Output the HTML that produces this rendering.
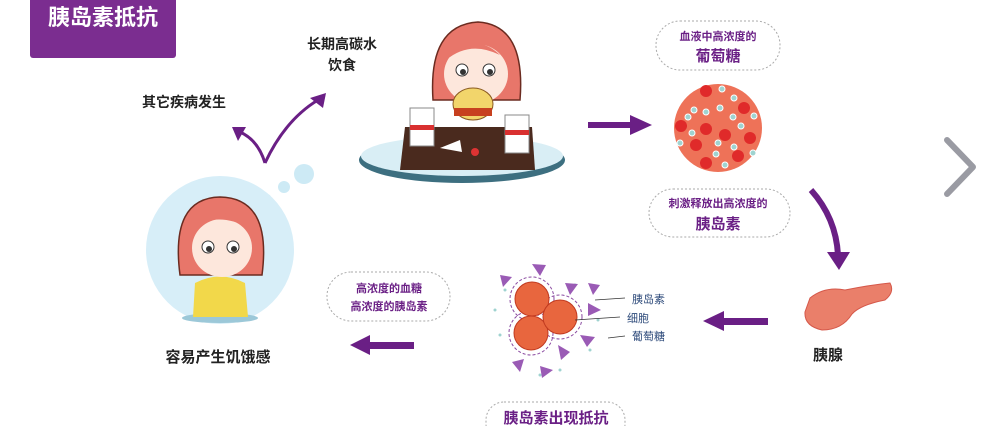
<!DOCTYPE html>
<html><head><meta charset="utf-8"><style>
html,body{margin:0;padding:0;background:#fff;}
svg{display:block;font-family:"Liberation Sans","Noto Sans CJK SC",sans-serif;font-weight:bold;}
</style></head><body>
<svg width="1000" height="426" viewBox="0 0 1000 426" xmlns="http://www.w3.org/2000/svg">
<!-- title -->
<rect x="30" y="-4" width="146" height="62" rx="3" fill="#7b2d90"/>
<text x="103" y="25" font-size="22" fill="#fff" text-anchor="middle">胰岛素抵抗</text>

<!-- top texts -->
<text x="342" y="49" font-size="14" fill="#222" text-anchor="middle">长期高碳水</text>
<text x="342" y="70" font-size="14" fill="#222" text-anchor="middle">饮食</text>
<text x="184" y="107" font-size="14" fill="#222" text-anchor="middle">其它疾病发生</text>

<!-- check arrows -->
<path d="M265,163 Q258,140 240,132" stroke="#6a1f85" stroke-width="3" fill="none"/>
<path d="M232,127 L246,127 L238,141 z" fill="#6a1f85"/>
<path d="M265,163 Q285,120 318,100" stroke="#6a1f85" stroke-width="3" fill="none"/>
<path d="M326,93 L323,108 L310,98 z" fill="#6a1f85"/>
<circle cx="304" cy="174" r="10" fill="#cdeaf5"/>
<circle cx="284" cy="187" r="6" fill="#cdeaf5"/>
<circle cx="267" cy="198" r="4" fill="#cdeaf5"/>

<!-- eating girl -->
<ellipse cx="462" cy="160" rx="103" ry="23" fill="#3d6f80"/>
<ellipse cx="462" cy="156" rx="101" ry="20" fill="#d9eef5"/>
<path d="M405,127 L532,127 L535,170 L400,170 z" fill="#4a2a1e"/>
<path d="M433,100 Q428,25 478,22 Q526,25 520,100 z" fill="#e8766a" stroke="#6b2b20" stroke-width="1.5"/>
<ellipse cx="476" cy="74" rx="32" ry="30" fill="#fde7dc"/>
<path d="M446,60 Q470,40 500,55 Q480,36 455,46 z" fill="#e8766a"/>
<circle cx="462" cy="70" r="6" fill="#fff" stroke="#333"/><circle cx="463" cy="72" r="3" fill="#333"/>
<circle cx="489" cy="70" r="6" fill="#fff" stroke="#333"/><circle cx="490" cy="72" r="3" fill="#333"/>
<ellipse cx="473" cy="104" rx="20" ry="16" fill="#f2d56b" stroke="#8a5a20"/>
<rect x="454" y="108" width="38" height="8" fill="#c7401f"/>
<rect x="410" y="108" width="24" height="38" fill="#fff" stroke="#888"/><rect x="410" y="125" width="24" height="5" fill="#d93030"/>
<rect x="505" y="115" width="24" height="38" fill="#fff" stroke="#888"/><rect x="505" y="130" width="24" height="5" fill="#d93030"/>
<path d="M440,148 L460,140 L462,152 z" fill="#fff"/><circle cx="475" cy="152" r="4" fill="#d33"/>

<!-- right arrow -->
<rect x="588" y="122" width="44" height="6" fill="#6a1f85"/>
<path d="M630,115 L652,125 L630,135 z" fill="#6a1f85"/>

<!-- box 1 -->
<rect x="656" y="21" width="124" height="49" rx="24" fill="none" stroke="#aaa" stroke-dasharray="2,2"/>
<text x="718" y="40" font-size="11" fill="#6a1f85" text-anchor="middle">血液中高浓度的</text>
<text x="718" y="61" font-size="15" fill="#6a1f85" text-anchor="middle">葡萄糖</text>

<!-- blood circle -->
<circle cx="718" cy="128" r="44" fill="#ee7258"/>
<g fill="#e02a2a">
<circle cx="706" cy="91" r="6"/><circle cx="744" cy="108" r="6"/><circle cx="681" cy="126" r="6"/><circle cx="706" cy="129" r="6"/><circle cx="725" cy="135" r="6"/><circle cx="750" cy="138" r="6"/><circle cx="696" cy="145" r="6"/><circle cx="738" cy="156" r="6"/><circle cx="706" cy="163" r="6"/>
</g>
<g fill="#9fd3d0" stroke="#fff" stroke-width="1">
<circle cx="722" cy="89" r="3"/><circle cx="734" cy="98" r="3"/><circle cx="694" cy="110" r="3"/><circle cx="720" cy="108" r="3"/><circle cx="706" cy="112" r="3"/><circle cx="733" cy="117" r="3"/><circle cx="754" cy="116" r="3"/><circle cx="688" cy="117" r="3"/><circle cx="741" cy="126" r="3"/><circle cx="692" cy="133" r="3"/><circle cx="718" cy="143" r="3"/><circle cx="734" cy="147" r="3"/><circle cx="680" cy="143" r="3"/><circle cx="716" cy="154" r="3"/><circle cx="725" cy="165" r="3"/><circle cx="753" cy="153" r="3"/>
</g>

<!-- box 2 -->
<rect x="649" y="189" width="141" height="48" rx="24" fill="none" stroke="#aaa" stroke-dasharray="2,2"/>
<text x="718" y="207" font-size="11" fill="#6a1f85" text-anchor="middle">刺激释放出高浓度的</text>
<text x="718" y="229" font-size="15" fill="#6a1f85" text-anchor="middle">胰岛素</text>

<!-- curved down arrow -->
<path d="M811,190 Q836,218 838,255" stroke="#6a1f85" stroke-width="6" fill="none"/>
<path d="M827,252 L850,252 L839,270 z" fill="#6a1f85"/>

<!-- chevron -->
<path d="M947,140 L973,167 L947,194" stroke="#9a9ba3" stroke-width="6" fill="none" stroke-linecap="round" stroke-linejoin="round"/>

<!-- pancreas -->
<path d="M810,298 Q825,286 845,290 Q870,285 890,283 Q895,292 885,300 Q860,305 852,314 Q842,330 822,330 Q804,326 805,312 z" fill="#ea7f6a" stroke="#d5584a"/>
<text x="828" y="360" font-size="15" fill="#222" text-anchor="middle">胰腺</text>

<!-- left arrow mid -->
<rect x="722" y="318" width="46" height="7" fill="#6a1f85"/>
<path d="M724,311 L703,321 L724,331 z" fill="#6a1f85"/>

<!-- cells -->
<g fill="#9fd3d0"><circle cx="505" cy="290" r="1.5"/><circle cx="575" cy="285" r="1.5"/><circle cx="500" cy="335" r="1.5"/><circle cx="520" cy="365" r="1.5"/><circle cx="560" cy="370" r="1.5"/><circle cx="590" cy="350" r="1.5"/><circle cx="598" cy="320" r="1.5"/><circle cx="495" cy="310" r="1.5"/><circle cx="540" cy="375" r="1.5"/></g>
<g fill="none" stroke="#8a4aa0" stroke-dasharray="3,2">
<circle cx="532" cy="299" r="22"/><circle cx="531" cy="333" r="22"/><circle cx="560" cy="317" r="22"/>
</g>
<g fill="#e8663e" stroke="#c0391f"><circle cx="532" cy="299" r="17"/><circle cx="531" cy="333" r="17"/><circle cx="560" cy="317" r="17"/></g>
<g fill="#9a5bb5"><path d="M500,275 L512,277 L503,287 z"/><path d="M532,264 L546,265 L540,276 z"/><path d="M565,283 L578,284 L570,295 z"/><path d="M588,283 L600,285 L593,295 z"/><path d="M588,303 L601,310 L588,316 z"/><path d="M580,335 L595,337 L587,347 z"/><path d="M558,345 L570,352 L561,360 z"/><path d="M512,362 L524,359 L520,372 z"/><path d="M540,366 L553,370 L542,378 z"/></g>
<g stroke="#333" stroke-width="0.8"><line x1="595" y1="300" x2="625" y2="298"/><line x1="575" y1="320" x2="620" y2="317"/><line x1="608" y1="338" x2="625" y2="336"/></g>
<g font-size="11" fill="#2d4a7a" font-weight="normal"><text x="632" y="303">胰岛素</text><text x="627" y="322">细胞</text><text x="632" y="340">葡萄糖</text></g>

<!-- bottom box -->
<rect x="486" y="402" width="139" height="40" rx="18" fill="none" stroke="#aaa" stroke-dasharray="2,2"/>
<text x="556" y="423" font-size="15" fill="#6a1f85" text-anchor="middle">胰岛素出现抵抗</text>

<!-- box 3 -->
<rect x="327" y="272" width="123" height="49" rx="24" fill="none" stroke="#aaa" stroke-dasharray="2,2"/>
<text x="389" y="292" font-size="11" fill="#6a1f85" text-anchor="middle">高浓度的血糖</text>
<text x="389" y="310" font-size="11" fill="#6a1f85" text-anchor="middle">高浓度的胰岛素</text>

<!-- left arrow bottom -->
<rect x="368" y="342" width="46" height="7" fill="#6a1f85"/>
<path d="M370,335 L350,345 L370,355 z" fill="#6a1f85"/>

<!-- hungry girl -->
<circle cx="220" cy="250" r="74" fill="#d7eef8"/>
<ellipse cx="220" cy="318" rx="38" ry="5" fill="#9cc8d8"/>
<path d="M195,283 Q220,270 245,283 L248,317 L193,317 z" fill="#f2d84a"/>
<path d="M180,275 Q170,198 220,197 Q272,198 262,275 z" fill="#e8766a" stroke="#6b2b20" stroke-width="1.5"/>
<ellipse cx="222" cy="248" rx="30" ry="29" fill="#fde7dc"/>
<path d="M190,230 Q215,210 250,228 Q225,205 200,215 z" fill="#e8766a"/>
<circle cx="208" cy="247" r="6" fill="#fff" stroke="#333"/><circle cx="209" cy="249" r="3" fill="#333"/>
<circle cx="233" cy="247" r="6" fill="#fff" stroke="#333"/><circle cx="234" cy="249" r="3" fill="#333"/>
<text x="218" y="362" font-size="15" fill="#222" text-anchor="middle">容易产生饥饿感</text>
</svg>
</body></html>
